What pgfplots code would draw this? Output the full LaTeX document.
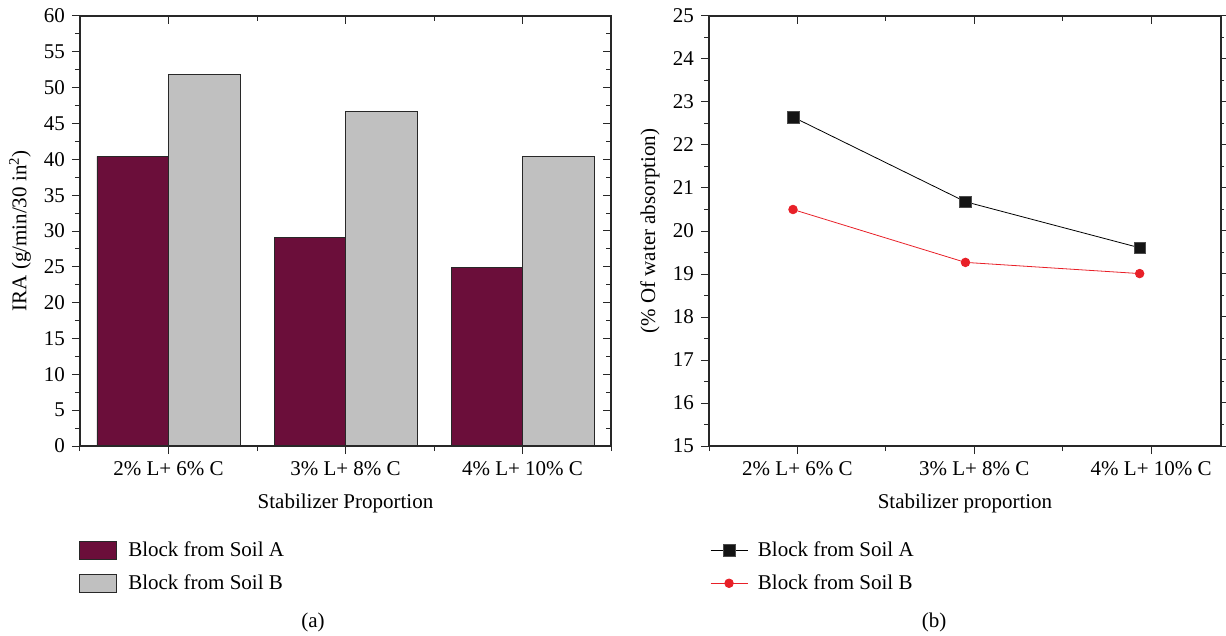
\documentclass[border=0pt]{standalone}
\usepackage{fontspec}
\setmainfont{Liberation Serif}
\usepackage{pgfplots}
\pgfplotsset{compat=1.18}

\definecolor{soilA}{RGB}{107,14,58}
\definecolor{soilB}{RGB}{192,192,192}
\definecolor{redline}{RGB}{232,32,40}
\definecolor{axgray}{RGB}{40,40,40}

\pgfplotsset{
  common/.style={
    scale only axis,
    /pgf/number format/assume math mode=true,
    axis line style={line width=1.1pt, axgray},
    every tick/.style={line width=1pt, axgray},
    major tick length=8pt,
    minor tick length=5pt,
    every axis x label/.style={at={(axis description cs:0.5,-0.1326)}, anchor=center},
  },
  barleg/.style={legend image code/.code={\draw[##1] (0pt,-9pt) rectangle (37pt,9pt);}},
  lineleg/.style={legend image code/.code={\draw[mark repeat=2,mark phase=2,##1] plot coordinates {(0pt,0pt) (18.5pt,0pt) (37pt,0pt)};}},
}

\begin{document}
\fontsize{21}{25}\selectfont
\begin{tikzpicture}
\useasboundingbox (0pt,0pt) rectangle (1226pt,635pt);

% ---------- (a) bar chart ----------
\begin{axis}[common,
  at={(80pt,189pt)}, anchor=south west,
  width=531pt, height=430pt,
  xmin=-0.5, xmax=2.5, ymin=0, ymax=60,
  ybar=0pt, bar width=71.5pt,
  xtick={0,1,2}, xticklabels={2\% L+ 6\% C, 3\% L+ 8\% C, 4\% L+ 10\% C},
  minor xtick={-0.5,0.5,1.5,2.5},
  ytick={0,5,...,60}, minor ytick={2.5,7.5,...,57.5},
  xtick pos=left, ytick pos=left, tick align=outside,
  xlabel={Stabilizer Proportion},
  ylabel={IRA (g/min/30 in\textsuperscript{2})},
  every axis y label/.style={at={(axis description cs:-0.113,0.5)}, rotate=90, anchor=center},
  legend style={at={(axis description cs:-0.007,-0.212)}, anchor=north west, draw=none, fill=none,
    row sep=11pt, column sep=9pt},
  legend cell align=left,
]
\addplot[fill=soilA, draw=axgray, line width=0.8pt, barleg]
  coordinates {(0,40.4) (1,29.1) (2,24.9)};
\addlegendentry{Block from Soil A}
\addplot[fill=soilB, draw=axgray, line width=0.8pt, barleg]
  coordinates {(0,51.9) (1,46.7) (2,40.4)};
\addlegendentry{Block from Soil B}
\end{axis}
% top/right inward ticks
\begin{axis}[common,
  at={(80pt,189pt)}, anchor=south west,
  width=531pt, height=430pt,
  xmin=-0.5, xmax=2.5, ymin=0, ymax=60,
  xtick={0,1,2}, minor xtick={-0.5,0.5,1.5,2.5},
  ytick={0,5,...,60}, minor ytick={2.5,7.5,...,57.5},
  xticklabels={}, yticklabels={},
  xtick pos=right, ytick pos=right, tick align=inside,
]
\end{axis}

% ---------- (b) line chart ----------
\begin{axis}[common,
  at={(709pt,189pt)}, anchor=south west,
  width=512pt, height=430pt,
  xmin=-0.5, xmax=2.395, ymin=15, ymax=25,
  xtick={0,1,2}, xticklabels={2\% L+ 6\% C, 3\% L+ 8\% C, 4\% L+ 10\% C},
  minor xtick={-0.5,0.5,1.5},
  ytick={15,16,...,25}, minor ytick={15.5,16.5,...,24.5},
  xtick pos=left, ytick pos=left, tick align=outside,
  xlabel={Stabilizer proportion},
  ylabel={(\% Of water absorption)},
  every axis y label/.style={at={(axis description cs:-0.1152,0.5)}, rotate=90, anchor=center},
  legend style={at={(axis description cs:-0.004,-0.212)}, anchor=north west, draw=none, fill=none,
    row sep=11pt, column sep=8pt},
  legend cell align=left,
  lineleg,
]
\addplot[black, line width=0.8pt, mark=square*, mark size=5.8pt, mark options={fill=black!92, draw=black!70, line width=0.5pt}]
  coordinates {(-0.025,22.65) (0.95,20.68) (1.935,19.61)};
\addlegendentry{Block from Soil A}
\addplot[redline, line width=0.8pt, mark=*, mark size=4.3pt, mark options={fill=redline, draw=redline}]
  coordinates {(-0.025,20.50) (0.95,19.27) (1.935,19.01)};
\addlegendentry{Block from Soil B}
\end{axis}
% top inward ticks
\begin{axis}[common,
  at={(709pt,189pt)}, anchor=south west,
  width=512pt, height=430pt,
  xmin=-0.5, xmax=2.395, ymin=15, ymax=25,
  xtick={0,1,2}, minor xtick={-0.5,0.5,1.5},
  ytick=\empty, xticklabels={},
  xtick pos=right, tick align=inside,
]
\end{axis}
% right outward ticks
\begin{axis}[common,
  at={(709pt,189pt)}, anchor=south west,
  width=512pt, height=430pt,
  xmin=-0.5, xmax=2.395, ymin=15, ymax=25,
  xtick=\empty,
  ytick={15,16,...,25}, minor ytick={15.5,16.5,...,24.5}, yticklabels={},
  ytick pos=right, tick align=outside,
  major tick length=5pt, minor tick length=3pt,
]
\end{axis}

\node at (313pt,13pt) {(a)};
\node at (934pt,13pt) {(b)};
\end{tikzpicture}
\end{document}
